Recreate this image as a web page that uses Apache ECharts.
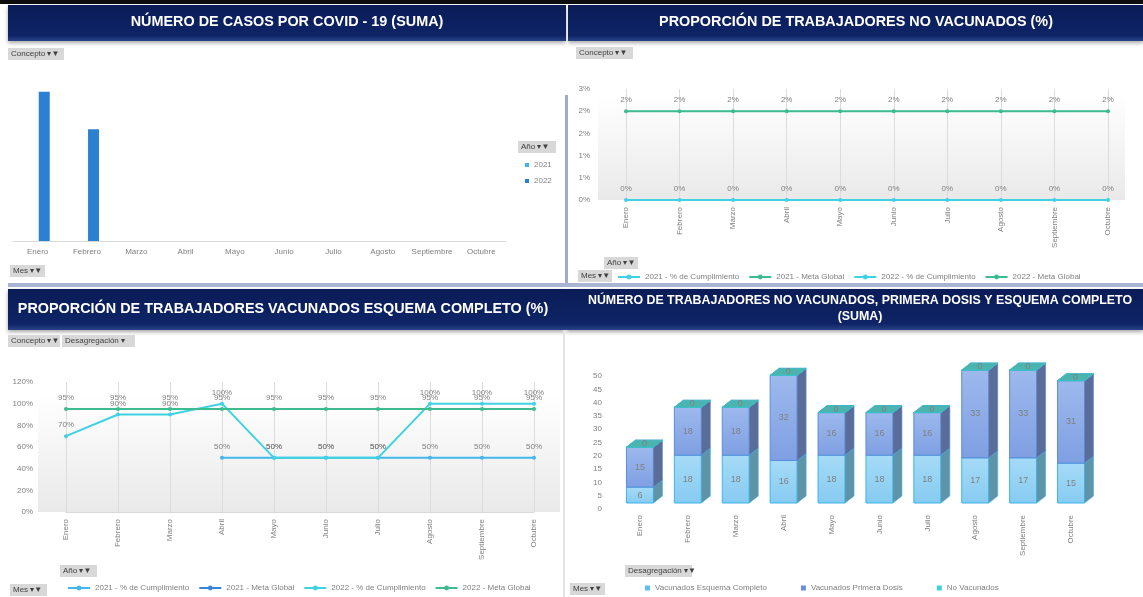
<!DOCTYPE html>
<html>
<head>
<meta charset="utf-8">
<script src="https://cdn.jsdelivr.net/npm/echarts@6/dist/echarts.min.js"></script>
<style>
body{margin:0;background:#fff;width:1143px;height:597px;overflow:hidden;position:relative}
.p{position:absolute}
</style>
</head>
<body>
<div id="c1" class="p" style="left:0;top:0;width:568px;height:287px"></div>
<div id="c2" class="p" style="left:568px;top:0;width:575px;height:287px"></div>
<div id="c3" class="p" style="left:0;top:287px;width:566px;height:310px"></div>
<div id="c4" class="p" style="left:566px;top:287px;width:577px;height:310px"></div>
<script>
var months = ['Enero','Febrero','Marzo','Abril','Mayo','Junio','Julio','Agosto','Septiembre','Octubre'];

// casos covid (suma)
var casos2021 = [null,null,null,null,null,null,null,null,null,null];
var casos2022 = [20,15,null,null,null,null,null,null,null,null];

// % trabajadores no vacunados
var noVac2021Cumpl = [null,null,null,null,null,null,null,null,null,null];
var noVac2021Meta = [null,null,null,null,null,null,null,null,null,null];
var noVac2022Cumpl = [0,0,0,0,0,0,0,0,0,0];
var noVac2022Meta = [2,2,2,2,2,2,2,2,2,2];

// % vacunados esquema completo
var esq2021Cumpl = [null,null,null,50,50,50,50,50,50,50];
var esq2021Meta = [null,null,null,null,null,null,null,null,null,null];
var esq2022Cumpl = [70,90,90,100,50,50,50,100,100,100];
var esq2022Meta = [95,95,95,95,95,95,95,95,95,95];

// numero de trabajadores
var vacEsquema = [6,18,18,16,18,18,18,17,17,15];
var vacPrimera = [15,18,18,32,16,16,16,33,33,31];
var noVacunados = [0,0,0,0,0,0,0,0,0,0];

var FONT = 'Liberation Sans';
var GREY = '#808080';

function navy() {
    return new echarts.graphic.LinearGradient(0, 0, 0, 1, [
        {offset: 0, color: '#0a1c57'}, {offset: 0.85, color: '#0e2466'}, {offset: 1, color: '#2a4286'}
    ]);
}
function plotBg() {
    return new echarts.graphic.LinearGradient(0, 0, 0, 1, [
        {offset: 0, color: '#ffffff'}, {offset: 1, color: '#e9e9e9'}
    ]);
}
function banner(x, w, y, h) {
    return {type: 'rect', shape: {x: x, y: y, width: w, height: h}, style: {fill: navy(), shadowBlur: 4, shadowColor: 'rgba(0,0,0,0.35)', shadowOffsetY: 2}};
}
function bannerText(x, y, txt, size) {
    return {type: 'text', style: {text: txt, x: x, y: y, fill: '#fff', font: 'bold ' + size + 'px "' + FONT + '"', align: 'center', verticalAlign: 'middle', textAlign: 'center', textVerticalAlign: 'middle'}};
}
function btn(x, y, w, txt) {
    return [
        {type: 'rect', shape: {x: x, y: y, width: w, height: 12}, style: {fill: '#d8d8d8'}},
        {type: 'text', style: {text: txt, x: x + 3, y: y + 6, fill: '#404040', font: '8px "' + FONT + '"', verticalAlign: 'middle', textVerticalAlign: 'middle'}}
    ];
}
function lineS(name, data, color) {
    return {
        name: name, type: 'line', data: data, symbol: 'circle', symbolSize: 4,
        lineStyle: {width: 2, color: color}, itemStyle: {color: color},
        label: {show: true, position: 'top', distance: 5, color: GREY, fontSize: 8, fontFamily: FONT,
            formatter: function (p) { return Math.round(p.value) + '%'; }}
    };
}
var catAxisRot = {
    type: 'category', data: months, boundaryGap: false,
    axisLine: {lineStyle: {color: '#d9d9d9'}}, axisTick: {show: false},
    splitLine: {show: true, lineStyle: {color: '#dcdcdc'}},
    axisLabel: {color: GREY, fontSize: 8, fontFamily: FONT, rotate: 90, margin: 7, interval: 0}
};
var lineLegend = {
    itemWidth: 22, itemHeight: 6, itemGap: 9,
    textStyle: {color: GREY, fontSize: 8, fontFamily: FONT}
};

// ---- casos covid
var c1 = echarts.init(document.getElementById('c1'));
c1.setOption({
    animation: false,
    textStyle: {fontFamily: FONT},
    graphic: [
        {type: 'rect', shape: {x: 0, y: 0, width: 568, height: 4}, style: {fill: '#0d0d0d'}},
        banner(8, 558, 5, 36),
        bannerText(287, 22, 'NÚMERO DE CASOS POR COVID - 19 (SUMA)', 14.4),
        {type: 'rect', shape: {x: 565, y: 95, width: 4, height: 192}, style: {fill: '#9eabcf'}},
        {type: 'rect', shape: {x: 8, y: 283, width: 560, height: 4}, style: {fill: '#a9b4d2'}}
    ].concat(btn(8, 48, 56, 'Concepto ▾▼'), btn(518, 141, 38, 'Año ▾▼'), btn(10, 265, 35, 'Mes ▾▼')),
    grid: {left: 13, right: 62, top: 62, bottom: 46},
    xAxis: {
        type: 'category', data: months,
        axisLine: {lineStyle: {color: '#d9d9d9'}}, axisTick: {show: false},
        axisLabel: {color: GREY, fontSize: 8, fontFamily: FONT, margin: 7, interval: 0}
    },
    yAxis: {type: 'value', min: 0, max: 24, show: false},
    legend: {
        orient: 'vertical', left: 520, top: 156, icon: 'rect', itemWidth: 4, itemHeight: 4, itemGap: 8,
        textStyle: {color: GREY, fontSize: 8, fontFamily: FONT}, data: ['2021', '2022']
    },
    series: [
        {name: '2021', type: 'bar', data: casos2021, barWidth: 11, barGap: '20%', itemStyle: {color: '#3cb6ea'}},
        {name: '2022', type: 'bar', data: casos2022, barWidth: 11, itemStyle: {color: '#2b80d0'}}
    ]
});

// ---- % no vacunados
var c2 = echarts.init(document.getElementById('c2'));
c2.setOption({
    animation: false,
    textStyle: {fontFamily: FONT},
    graphic: [
        {type: 'rect', shape: {x: 0, y: 0, width: 575, height: 4}, style: {fill: '#0d0d0d'}},
        banner(0, 575, 5, 36),
        bannerText(288, 22, 'PROPORCIÓN DE TRABAJADORES NO VACUNADOS (%)', 14.4),
        {type: 'rect', shape: {x: 30, y: 95, width: 527, height: 105}, style: {fill: plotBg()}},
        {type: 'rect', shape: {x: 0, y: 283, width: 575, height: 4}, style: {fill: '#a9b4d2'}}
    ].concat(btn(8, 47, 57, 'Concepto ▾▼'), btn(36, 257, 34, 'Año ▾▼'), btn(10, 270, 34, 'Mes ▾▼')),
    grid: {left: 58, right: 35, top: 89, bottom: 87},
    xAxis: catAxisRot,
    yAxis: {
        type: 'value', min: 0, max: 2.5, interval: 0.5,
        axisLine: {show: false}, axisTick: {show: false}, splitLine: {show: false},
        axisLabel: {color: GREY, fontSize: 8, fontFamily: FONT, margin: 36,
            formatter: function (v) { return Math.round(v) + '%'; }}
    },
    legend: Object.assign({left: 44, top: 268}, lineLegend),
    series: [
        lineS('2021 - % de Cumplimiento', noVac2021Cumpl, '#3fd2e2'),
        lineS('2021 - Meta Global', noVac2021Meta, '#3dbb8f'),
        lineS('2022 - % de Cumplimiento', noVac2022Cumpl, '#3fd2e2'),
        lineS('2022 - Meta Global', noVac2022Meta, '#3dbb8f')
    ]
});

// ---- % vacunados esquema completo
var c3 = echarts.init(document.getElementById('c3'));
c3.setOption({
    animation: false,
    textStyle: {fontFamily: FONT},
    graphic: [
        banner(8, 558, 2, 41),
        bannerText(283, 22, 'PROPORCIÓN DE TRABAJADORES VACUNADOS ESQUEMA COMPLETO (%)', 14.4),
        {type: 'rect', shape: {x: 38, y: 108, width: 522, height: 117}, style: {fill: plotBg()}},
        {type: 'rect', shape: {x: 563, y: 43, width: 2, height: 267}, style: {fill: '#e4e4e4'}}
    ].concat(btn(8, 48, 52, 'Concepto ▾▼'), btn(62, 48, 73, 'Desagregación ▾'), btn(60, 278, 37, 'Año ▾▼'), btn(10, 297, 37, 'Mes ▾▼')),
    grid: {left: 66, right: 32, top: 95, bottom: 85},
    xAxis: catAxisRot,
    yAxis: {
        type: 'value', min: 0, max: 120, interval: 20,
        axisLine: {show: false}, axisTick: {show: false}, splitLine: {show: false},
        axisLabel: {color: GREY, fontSize: 8, fontFamily: FONT, margin: 33, formatter: '{value}%'}
    },
    legend: Object.assign({left: 62, top: 292}, lineLegend),
    series: [
        lineS('2021 - % de Cumplimiento', esq2021Cumpl, '#45b6ec'),
        lineS('2021 - Meta Global', esq2021Meta, '#3a86d6'),
        lineS('2022 - % de Cumplimiento', esq2022Cumpl, '#3fd2e2'),
        lineS('2022 - Meta Global', esq2022Meta, '#3dbb8f')
    ]
});

// ---- numero de trabajadores (3D stacked)
function stackRows(vals, bases) {
    return vals.map(function (v, i) {
        var b = 0;
        bases.forEach(function (arr) { b += arr[i]; });
        return [i, b, b + v];
    });
}
function box3d(c1s, c2s, side, top, border, labelOnTop) {
    return function (params, api) {
        var i = api.value(0);
        var lo = api.coord([i, api.value(1)]);
        var hi = api.coord([i, api.value(2)]);
        var w = 27, dx = 9, dy = 7, lift = 6;
        var x = lo[0] - w / 2, yb = lo[1] - lift, yt = hi[1] - lift;
        var val = api.value(2) - api.value(1);
        return {type: 'group', children: [
            {type: 'rect', shape: {x: x, y: yt, width: w, height: yb - yt},
                style: {fill: new echarts.graphic.LinearGradient(0, 0, 0, 1, [{offset: 0, color: c1s}, {offset: 1, color: c2s}]), stroke: border, lineWidth: 1}},
            {type: 'polygon', shape: {points: [[x + w, yt], [x + w + dx, yt - dy], [x + w + dx, yb - dy], [x + w, yb]]},
                style: {fill: side, stroke: border, lineWidth: 0.6}},
            {type: 'polygon', shape: {points: [[x, yt], [x + dx, yt - dy], [x + w + dx, yt - dy], [x + w, yt]]},
                style: {fill: top, stroke: border, lineWidth: 0.8}},
            {type: 'text', style: {text: String(val),
                x: labelOnTop ? x + w / 2 + dx / 2 : x + w / 2, y: labelOnTop ? yt - dy / 2 : (yt + yb) / 2,
                fill: GREY, font: '9px "' + FONT + '"', align: 'center', verticalAlign: 'middle', textAlign: 'center', textVerticalAlign: 'middle'}}
        ]};
    };
}
var c4 = echarts.init(document.getElementById('c4'));
c4.setOption({
    animation: false,
    textStyle: {fontFamily: FONT},
    graphic: [
        banner(0, 577, 2, 41),
        bannerText(294, 14, 'NÚMERO DE TRABAJADORES NO VACUNADOS, PRIMERA DOSIS Y ESQUEMA COMPLETO', 12.4),
        bannerText(294, 30, '(SUMA)', 12.4)
    ].concat(btn(59, 278, 67, 'Desagregación ▾▼'), btn(4, 296, 35, 'Mes ▾▼')),
    grid: {left: 50, right: 48, top: 89, bottom: 88},
    xAxis: {
        type: 'category', data: months,
        axisLine: {show: false}, axisTick: {show: false},
        axisLabel: {color: GREY, fontSize: 8, fontFamily: FONT, rotate: 90, margin: 6, interval: 0}
    },
    yAxis: {
        type: 'value', min: 0, max: 50, interval: 5,
        axisLine: {show: false}, axisTick: {show: false}, splitLine: {show: false},
        axisLabel: {color: GREY, fontSize: 8, fontFamily: FONT, margin: 14}
    },
    legend: {
        left: 74, top: 292, icon: 'rect', itemWidth: 5, itemHeight: 5, itemGap: 34,
        textStyle: {color: GREY, fontSize: 8, fontFamily: FONT}
    },
    series: [
        {name: 'Vacunados Esquema Completo', type: 'custom', itemStyle: {color: '#5bc0ee'},
            renderItem: box3d('#a6dbf7', '#86cbf1', '#5e93a8', '#7fc6e8', '#3fb4ea', false),
            encode: {x: 0, y: [1, 2]}, data: stackRows(vacEsquema, [])},
        {name: 'Vacunados Primera Dosis', type: 'custom', itemStyle: {color: '#6b8fd8'},
            renderItem: box3d('#9db9ec', '#7f9fe2', '#5a6c98', '#8aa8e4', '#5a8ddb', false),
            encode: {x: 0, y: [1, 2]}, data: stackRows(vacPrimera, [vacEsquema])},
        {name: 'No Vacunados', type: 'custom', itemStyle: {color: '#40d0d8'},
            renderItem: box3d('#4cc6d0', '#4cc6d0', '#3f8f98', '#4bb4ae', '#38c2cc', true),
            encode: {x: 0, y: [1, 2]}, data: stackRows(noVacunados, [vacEsquema, vacPrimera])}
    ]
});
</script>
</body>
</html>
